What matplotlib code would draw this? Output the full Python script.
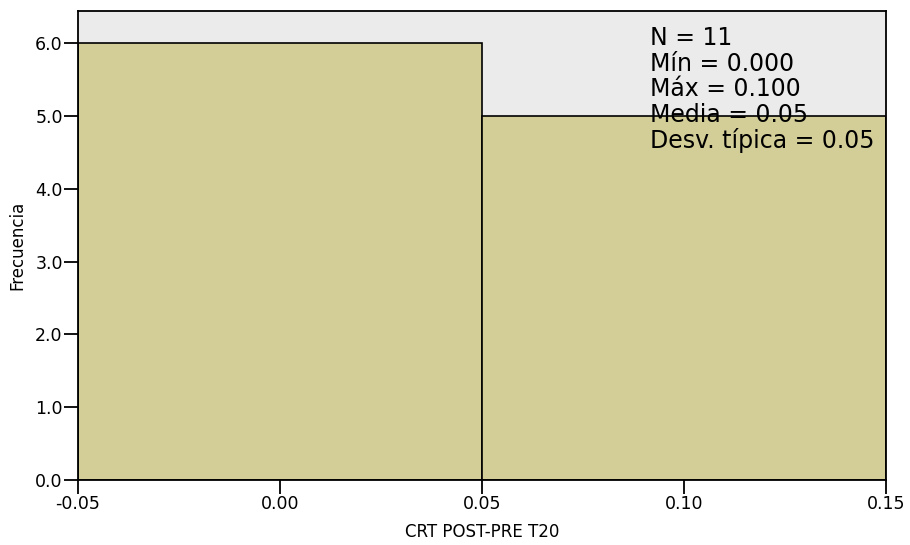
import matplotlib.pyplot as plt
import numpy as np

# histogram bins and counts
bin_edges = [-0.05, 0.05, 0.15]
counts = [6, 5]
xticks = [-0.05, 0.00, 0.05, 0.10, 0.15]
yticks = [0.0, 1.0, 2.0, 3.0, 4.0, 5.0, 6.0]
stats_lines = ["N = 11", "Mín = 0.000", "Máx = 0.100", "Media = 0.05", "Desv. típica = 0.05"]

plt.rcParams['font.family'] = ['DejaVu Sans']

fig = plt.figure(figsize=(9.1, 5.45), dpi=100)
ax = fig.add_axes([78/910, 1-480/545, (886-78)/910, (480-11)/545])
ax.set_facecolor('#ebebeb')

widths = np.diff(bin_edges)
ax.bar(bin_edges[:-1], counts, width=widths, align='edge', color='#d3cd98',
       edgecolor='black', linewidth=1.2, zorder=2)

ax.set_xlim(bin_edges[0], bin_edges[-1])
ax.set_ylim(0, 6.44)
ax.set_xticks(xticks)
ax.set_xticklabels(['%.2f' % t for t in xticks], fontsize=12.5)
ax.set_yticks(yticks)
ax.set_yticklabels(['%.1f' % t for t in yticks], fontsize=12.5)
ax.tick_params(direction='out', length=10, width=1.3, pad=1)
for s in ax.spines.values():
    s.set_linewidth(1.3)

ax.set_xlabel('CRT POST-PRE T20', fontsize=12, labelpad=7)
ax.set_ylabel('Frecuencia', fontsize=12, labelpad=6)

ax.text((650-78)/808, 1-(26-11)/469, "\n".join(stats_lines), transform=ax.transAxes,
        va='top', ha='left', fontsize=17, linespacing=1.08, zorder=5)

plt.savefig("out.png", dpi=100)
